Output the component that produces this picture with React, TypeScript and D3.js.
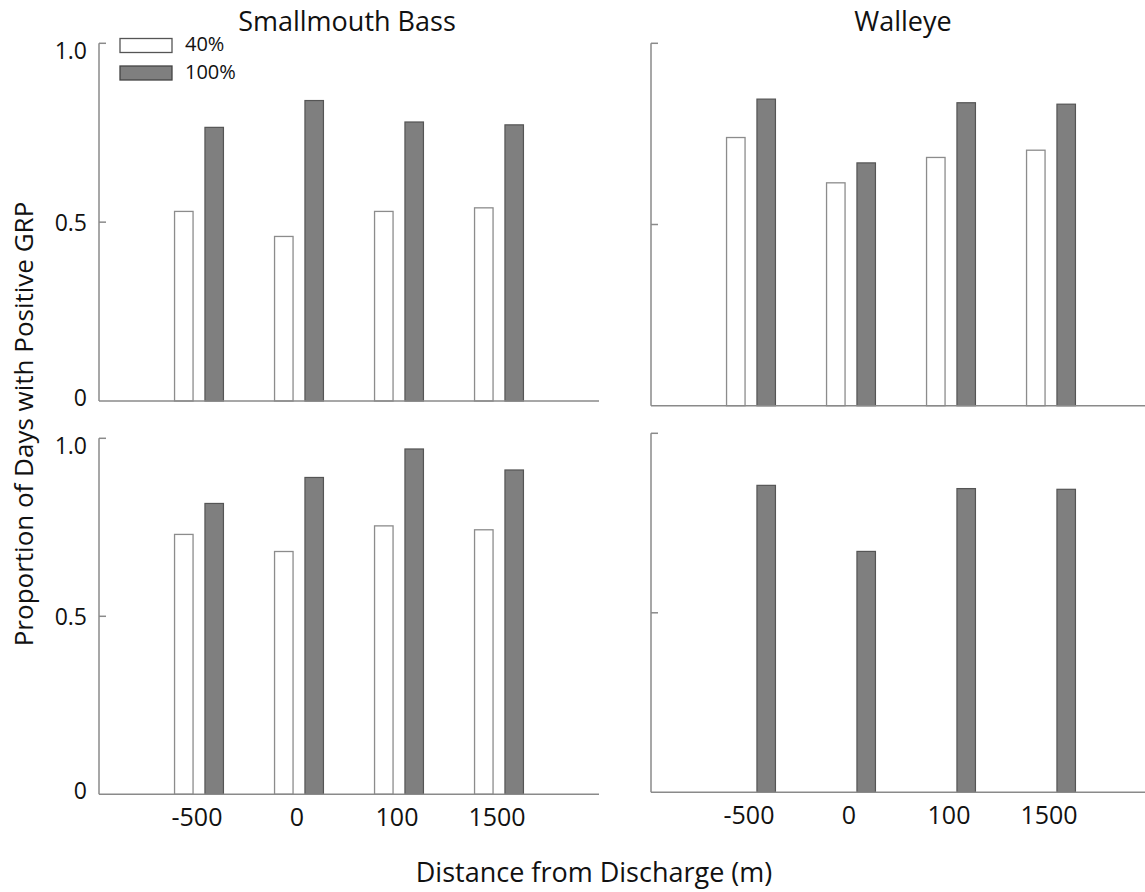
import React from "react";
import * as d3 from "d3";

const categories = ["-500", "0", "100", "1500"];
const seriesNames = ["40%", "100%"];
const speciesTitles = ["Smallmouth Bass", "Walleye"];

const smb40Top = [0.53, 0.46, 0.53, 0.54];
const smb100Top = [0.765, 0.84, 0.78, 0.772];
const wal40Top = [0.74, 0.615, 0.685, 0.705];
const wal100Top = [0.846, 0.67, 0.836, 0.832];

const smb40Bot = [0.73, 0.682, 0.754, 0.743];
const smb100Bot = [0.817, 0.89, 0.97, 0.911];
const wal40Bot: (number | null)[] = [null, null, null, null];
const wal100Bot = [0.855, 0.671, 0.846, 0.844];

const yTickValues = [0, 0.5, 1.0];
const yTickLabels = ["0", "0.5", "1.0"];

const yTitle = "Proportion of Days with Positive GRP";
const xTitle = "Distance from Discharge (m)";

const FONT = "'Open Sans', 'Noto Sans', sans-serif";
const TEXT = "#111111";
const AXIS = "#8a8a8a";
const GRAY = "#7f7f7f";

type PanelProps = {
  x0: number;
  x1: number;
  yTop: number;
  yBase: number;
  s40: (number | null)[];
  s100: (number | null)[];
  showYLabels: boolean;
  showXLabels: boolean;
};

function Panel({ x0, x1, yTop, yBase, s40, s100, showYLabels, showXLabels }: PanelProps) {
  const x = d3.scalePoint<string>().domain(categories).range([x0, x1]).padding(1);
  const y = d3.scaleLinear().domain([0, 1]).range([yBase, yTop]);
  const bw = 18.5;
  const off = 15.2;
  const labelShift: Record<string, number> = { "0": -4, "0.5": 0, "1.0": 7 };
  return (
    <g>
      {categories.map((c, i) => {
        const cx = x(c) as number;
        const v40 = s40[i];
        const v100 = s100[i];
        return (
          <g key={c}>
            {v40 != null && (
              <rect
                x={cx - off - bw / 2}
                y={y(v40)}
                width={bw}
                height={yBase - y(v40)}
                fill="#ffffff"
                stroke="#8c8c8c"
                strokeWidth={1.3}
              />
            )}
            {v100 != null && (
              <rect
                x={cx + off - bw / 2}
                y={y(v100)}
                width={bw}
                height={yBase - y(v100)}
                fill={GRAY}
                stroke="#555555"
                strokeWidth={1.2}
              />
            )}
            {showXLabels && (
              <text
                x={cx - 2}
                y={yBase + 32}
                textAnchor="middle"
                fontFamily={FONT}
                fontSize={25}
                fill={TEXT}
              >
                {c}
              </text>
            )}
          </g>
        );
      })}
      <line x1={x0} x2={x0} y1={yTop} y2={yBase} stroke={AXIS} strokeWidth={1.5} />
      <line x1={x0} x2={x1} y1={yBase} y2={yBase} stroke={AXIS} strokeWidth={1.5} />
      {yTickValues.map((v, i) => (
        <g key={v}>
          {v > 0 && (
            <line x1={x0} x2={x0 + 7} y1={y(v)} y2={y(v)} stroke={AXIS} strokeWidth={1.5} />
          )}
          {showYLabels && (
            <text
              x={x0 - 12}
              y={y(v) + (labelShift[yTickLabels[i]] || 0)}
              textAnchor="end"
              dominantBaseline="central"
              fontFamily={FONT}
              fontSize={23}
              fill={TEXT}
            >
              {yTickLabels[i]}
            </text>
          )}
        </g>
      ))}
    </g>
  );
}

export default function App() {
  const W = 1145;
  const H = 892;
  return (
    <div style={{ position: "absolute", left: 0, top: 0 }}>
      <svg width={W} height={H} style={{ display: "block", background: "#ffffff" }}>
        <rect width={W} height={H} fill="#ffffff" />
        <Panel x0={99} x1={599} yTop={43.3} yBase={401} s40={smb40Top} s100={smb100Top} showYLabels showXLabels={false} />
        <Panel x0={651} x1={1151} yTop={43.3} yBase={405.7} s40={wal40Top} s100={wal100Top} showYLabels={false} showXLabels={false} />
        <Panel x0={99} x1={599} yTop={438.3} yBase={794.3} s40={smb40Bot} s100={smb100Bot} showYLabels showXLabels />
        <Panel x0={651} x1={1151} yTop={433.3} yBase={792.3} s40={wal40Bot} s100={wal100Bot} showYLabels={false} showXLabels />

        <text x={347} y={31} textAnchor="middle" fontFamily={FONT} fontSize={27} fill={TEXT}>
          {speciesTitles[0]}
        </text>
        <text x={903} y={31} textAnchor="middle" fontFamily={FONT} fontSize={27} fill={TEXT}>
          {speciesTitles[1]}
        </text>

        <rect x={120} y={38.5} width={52} height={14} fill="#ffffff" stroke="#555555" strokeWidth={1.3} />
        <rect x={120} y={66} width={52} height={14} fill={GRAY} stroke="#444444" strokeWidth={1.3} />
        <text x={185} y={51} fontFamily={FONT} fontSize={20} fill={TEXT}>
          {seriesNames[0]}
        </text>
        <text x={185} y={79} fontFamily={FONT} fontSize={20} fill={TEXT}>
          {seriesNames[1]}
        </text>

        <text
          transform="translate(33,424) rotate(-90)"
          textAnchor="middle"
          fontFamily={FONT}
          fontSize={26}
          fill={TEXT}
        >
          {yTitle}
        </text>
        <text x={594} y={882} textAnchor="middle" fontFamily={FONT} fontSize={27} fill={TEXT}>
          {xTitle}
        </text>
      </svg>
    </div>
  );
}
